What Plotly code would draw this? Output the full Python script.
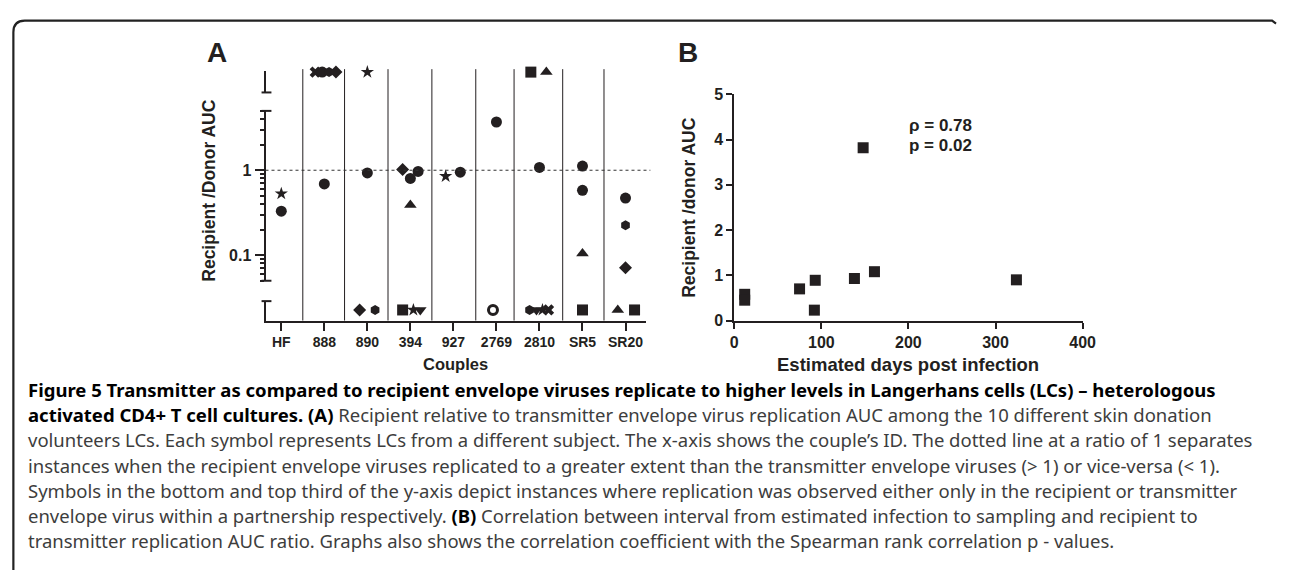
import plotly.graph_objects as go

W, H = 1290, 579


def fx(px):
    return px / W


def fy(py):
    return 1 - py / H


# ---------------- data ----------------
couples = ["HF", "888", "890", "394", "927", "2769", "2810", "SR5", "SR20"]

# Panel A: measured recipient/donor AUC ratios (log part of axis)
a_couple = ["HF", "HF", "888", "890", "394", "394", "394", "394", "927", "927",
            "2769", "2810", "SR5", "SR5", "SR5", "SR20", "SR20", "SR20"]
a_ratio = [0.53, 0.33, 0.69, 0.93, 1.02, 0.80, 0.97, 0.39, 0.85, 0.95,
           3.7, 1.08, 1.12, 0.58, 0.105, 0.47, 0.225, 0.071]
a_symbol = ["star", "circle", "circle", "circle", "diamond", "circle", "circle", "triangle-up",
            "star", "circle", "circle", "circle", "circle", "circle", "triangle-up",
            "circle", "hexagon", "diamond"]
a_jitter = [0, 0, 0, 0, -0.18, 0, 0.18, 0, -0.18, 0.16,
            0, 0, 0, 0, 0, 0, 0, 0]

# Panel A: replication only in recipient (top band)
top_couple = ["888", "888", "888", "888", "890", "2810", "2810"]
top_symbol = ["x", "circle", "hexagon", "diamond", "star", "square", "triangle-up"]
top_jitter = [-0.21, -0.05, 0.11, 0.27, 0, -0.2, 0.16]

# Panel A: replication only in transmitter (bottom band)
bot_couple = ["890", "890", "394", "394", "394", "2769", "2810", "2810", "2810", "2810",
              "SR5", "SR20", "SR20"]
bot_symbol = ["diamond", "hexagon", "square", "star", "triangle-down", "circle-open",
              "hexagon", "triangle-down", "star", "x", "square", "triangle-up", "square"]
bot_jitter = [-0.18, 0.18, -0.18, 0.07, 0.23, -0.08, -0.23, -0.07, 0.07, 0.21,
              0, -0.18, 0.21]

# Panel B
b_days = [12, 12, 75, 93, 92, 138, 148, 161, 324]
b_ratio = [0.58, 0.45, 0.70, 0.89, 0.23, 0.93, 3.82, 1.08, 0.90]

a_yticks = [0.1, 1]
a_minor = [0.05, 0.06, 0.07, 0.08, 0.09, 0.2, 0.3, 0.4, 0.5, 0.6, 0.7, 0.8, 0.9, 2, 3, 4, 5]
b_xticks = [0, 100, 200, 300, 400]
b_yticks = [0, 1, 2, 3, 4, 5]

caption_lines = [
    "<b>Figure 5 Transmitter as compared to recipient envelope viruses replicate to higher levels in Langerhans cells (LCs) – heterologous</b>",
    "<b>activated CD4+ T cell cultures. (A)</b> Recipient relative to transmitter envelope virus replication AUC among the 10 different skin donation",
    "volunteers LCs. Each symbol represents LCs from a different subject. The x-axis shows the couple’s ID. The dotted line at a ratio of 1 separates",
    "instances when the recipient envelope viruses replicated to a greater extent than the transmitter envelope viruses (&gt; 1) or vice-versa (&lt; 1).",
    "Symbols in the bottom and top third of the y-axis depict instances where replication was observed either only in the recipient or transmitter",
    "envelope virus within a partnership respectively. <b>(B)</b> Correlation between interval from estimated infection to sampling and recipient to",
    "transmitter replication AUC ratio. Graphs also shows the correlation coefficient with the Spearman rank correlation p - values.",
]

# ---------------- styles ----------------
INK = "#231f20"
SANS = "Liberation Sans, Arial, sans-serif"
sym_size = {"circle": 11, "star": 10, "diamond": 10, "triangle-up": 11, "triangle-down": 11,
            "square": 11, "x": 10, "hexagon": 10, "circle-open": 9}

idx = {c: i for i, c in enumerate(couples)}

fig = go.Figure()


def add_points(couple_list, jit, yvals, syms, yaxis, xaxis="x"):
    xs = [idx[c] + j for c, j in zip(couple_list, jit)]
    fig.add_trace(go.Scatter(
        x=xs, y=yvals, mode="markers", xaxis=xaxis, yaxis=yaxis, cliponaxis=False,
        showlegend=False,
        marker=dict(symbol=syms, size=[sym_size[s] for s in syms], color=INK, opacity=1,
                    line=dict(color=INK, width=[3 if s == "circle-open" else 0 for s in syms])),
    ))


add_points(a_couple, a_jitter, a_ratio, a_symbol, "y")
add_points(top_couple, top_jitter, [0] * len(top_couple), top_symbol, "y2")
add_points(bot_couple, bot_jitter, [0] * len(bot_couple), bot_symbol, "y3")

fig.add_trace(go.Scatter(
    x=b_days, y=b_ratio, mode="markers", xaxis="x2", yaxis="y4", cliponaxis=False,
    showlegend=False, marker=dict(symbol="square", size=11, color=INK, opacity=1),
))

# ---------------- axes ----------------
axis_common = dict(showline=True, linewidth=2, linecolor=INK, showgrid=False, zeroline=False,
                   tickcolor=INK, tickwidth=2,
                   tickfont=dict(family=SANS, size=16, color=INK, weight="bold"))
axis_plain = {k: v for k, v in axis_common.items() if k != "tickfont"}

fig.update_layout(
    width=W, height=H, margin=dict(l=0, r=0, t=0, b=0),
    paper_bgcolor="white", plot_bgcolor="white",
    xaxis=dict(domain=[fx(265), fx(651)], range=[-0.367, 8.486], anchor="y3",
               tickmode="array", tickvals=list(range(len(couples))), ticktext=couples,
               ticks="outside", ticklen=8,
               tickfont=dict(family=SANS, size=14, color=INK, weight="bold"), **axis_plain),
    yaxis=dict(type="log", domain=[fy(281), fy(106)], range=[-1.30103, 0.69897], anchor="x",
               tickmode="array", tickvals=a_yticks, ticktext=["0.1", "1"], ticks="outside", ticklen=9,
               minor=dict(tickmode="array", tickvals=a_minor, ticks="outside", ticklen=4,
                          tickwidth=1.5, tickcolor=INK),
               tickfont=dict(family=SANS, size=16, color=INK, weight="bold"), **axis_plain),
    yaxis2=dict(domain=[fy(87), fy(65)], range=[-1, 0.05], anchor="x", showticklabels=False,
                ticks="", **axis_plain),
    yaxis3=dict(domain=[fy(322), fy(302)], range=[-1.2, 1], anchor="x", showticklabels=False,
                ticks="", **axis_plain),
    xaxis2=dict(domain=[fx(740), fx(1093)], range=[0, 400], anchor="y4",
                tickmode="array", tickvals=b_xticks, ticks="outside", ticklen=6, **axis_common),
    yaxis4=dict(domain=[fy(322), fy(89)], range=[0, 5], anchor="x2",
                tickmode="array", tickvals=b_yticks, ticks="outside", ticklen=6, **axis_common),
)

# ---------------- shapes ----------------
shapes = []
# category separators in panel A
for xs in [0.5, 1.47, 2.48, 3.5, 4.52, 5.41, 6.54, 7.5]:
    shapes.append(dict(type="line", xref="x", yref="paper", x0=xs, x1=xs, y0=fy(322), y1=fy(63),
                       line=dict(color=INK, width=1)))
# ratio = 1 reference line
shapes.append(dict(type="line", xref="paper", yref="y", x0=fx(265), x1=fx(655), y0=1, y1=1,
                   line=dict(color="#333333", width=1, dash="3px,3px")))
# axis break caps
for py in [87, 106, 281, 302]:
    shapes.append(dict(type="line", xref="paper", yref="paper", x0=fx(261), x1=fx(271),
                       y0=fy(py), y1=fy(py), line=dict(color=INK, width=2)))
# outer frame with rounded corner
frame = (f"M {fx(9.5)},{fy(579)} L {fx(9.5)},{fy(25)} "
         f"Q {fx(9.5)},{fy(13)} {fx(21)},{fy(13)} L {fx(1285)},{fy(13)} L {fx(1289)},{fy(16)}")
shapes.append(dict(type="path", xref="paper", yref="paper", path=frame,
                   line=dict(color="#222222", width=2.2)))
fig.update_layout(shapes=shapes)

# ---------------- annotations ----------------
ann = []


def text(px, py, s, size, xanchor="center", angle=0, color=INK, family=SANS):
    ann.append(dict(x=fx(px), y=fy(py), xref="paper", yref="paper", text=s, showarrow=False,
                    xanchor=xanchor, yanchor="middle", textangle=angle,
                    font=dict(family=family, size=size, color=color)))


text(216, 46, "<b>A</b>", 28)
text(693, 46, "<b>B</b>", 28)
text(208, 188, "<b>Recipient /Donor AUC</b>", 17.5, angle=-90)
text(694, 205, "<b>Recipient /donor AUC</b>", 17.5, angle=-90)
text(458, 367, "<b>Couples</b>", 16.5)
text(916, 367, "<b>Estimated days post infection</b>", 18.5)
text(915, 121, "<b>ρ = 0.78</b>", 17, xanchor="left")
text(915, 142, "<b>p = 0.02</b>", 17, xanchor="left")

for i, line in enumerate(caption_lines):
    line = line.replace("<b>", "<span style='color:#000000'><b>").replace("</b>", "</b></span>")
    text(22, 393 + i * 26, line, 18.5, xanchor="left", color="#3d3d3d", family="Noto Sans, sans-serif")

fig.update_layout(annotations=ann)

fig.write_html("out.html")
